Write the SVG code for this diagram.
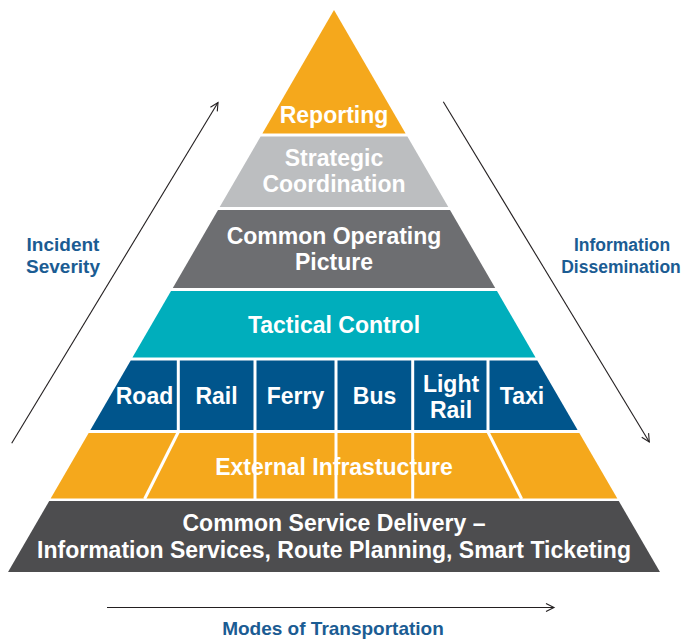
<svg xmlns="http://www.w3.org/2000/svg" width="686" height="641" viewBox="0 0 686 641">
<style>
.t{font-family:"Liberation Sans",Arial,sans-serif;font-weight:bold;font-size:23px;fill:#ffffff;text-anchor:middle}
.lbl{font-family:"Liberation Sans",Arial,sans-serif;font-weight:bold;font-size:19px;fill:#1B5C93;text-anchor:middle}
.sm{font-size:17.5px}
.div{stroke:#ffffff;stroke-width:3;fill:none}
.arr{stroke:#231F20;stroke-width:1.1;fill:none;marker-end:url(#ah)}
</style>
<defs>
<marker id="ah" markerUnits="userSpaceOnUse" markerWidth="12" markerHeight="12" refX="9" refY="5" orient="auto">
<path d="M1,1 L9,5 L1,9" fill="none" stroke="#231F20" stroke-width="1.1"/>
</marker>
</defs>
<rect width="686" height="641" fill="#ffffff"/>

<g id="reporting">
<polygon points="334,10 405.6,133.5 262.4,133.5" fill="#F5A81C"/>
<text class="t" x="334" y="123">Reporting</text>
</g>
<g id="strategic-coordination">
<polygon points="260.6,136.5 407.4,136.5 448.3,207 219.7,207" fill="#BCBEC0"/>
<text class="t" x="334" y="166">Strategic</text>
<text class="t" x="334" y="192">Coordination</text>
</g>
<g id="common-operating-picture">
<polygon points="218,210 450,210 495.2,288 172.8,288" fill="#6D6E71"/>
<text class="t" x="334" y="244">Common Operating</text>
<text class="t" x="334" y="270">Picture</text>
</g>
<g id="tactical-control">
<polygon points="171,291 497,291 535.55,357.5 132.45,357.5" fill="#00AEBC"/>
<text class="t" x="334" y="333">Tactical Control</text>
</g>
<g id="modes">
<polygon points="130.7,360.5 537.3,360.5 577.6,430 90.4,430" fill="#00558C"/>
<line class="div" x1="178.3" y1="360" x2="178.3" y2="431"/>
<line class="div" x1="255" y1="360" x2="255" y2="431"/>
<line class="div" x1="336" y1="360" x2="336" y2="431"/>
<line class="div" x1="412.7" y1="360" x2="412.7" y2="431"/>
<line class="div" x1="488" y1="360" x2="488" y2="431"/>
<text class="t" x="144.5" y="404">Road</text>
<text class="t" x="216.5" y="404">Rail</text>
<text class="t" x="295.5" y="404">Ferry</text>
<text class="t" x="374.5" y="404">Bus</text>
<text class="t" x="451" y="392">Light</text>
<text class="t" x="451" y="418">Rail</text>
<text class="t" x="522" y="404">Taxi</text>
</g>
<g id="external-infrastructure">
<polygon points="88.66,433 579.34,433 617.33,498.5 50.67,498.5" fill="#F5A81C"/>
<text class="t" x="334" y="475">External Infrastucture</text>
<line class="div" x1="178.3" y1="432" x2="144.6" y2="499"/>
<line class="div" x1="255" y1="432" x2="255" y2="499"/>
<line class="div" x1="336" y1="432" x2="336" y2="499"/>
<line class="div" x1="412.7" y1="432" x2="412.7" y2="499"/>
<line class="div" x1="488" y1="432" x2="521.7" y2="499"/>
</g>
<g id="common-service-delivery">
<polygon points="49.22,501 618.78,501 659.96,572 8.04,572" fill="#4D4D4F"/>
<text class="t" x="334" y="531">Common Service Delivery –</text>
<text class="t" x="334" y="558">Information Services, Route Planning, Smart Ticketing</text>
</g>

<g id="label-incident-severity">
<text class="lbl" x="63" y="251">Incident</text>
<text class="lbl" x="63" y="273">Severity</text>
</g>
<g id="label-information-dissemination">
<text class="lbl sm" x="622" y="251">Information</text>
<text class="lbl sm" x="621" y="273">Dissemination</text>
</g>
<g id="label-modes">
<text class="lbl" x="333" y="635">Modes of Transportation</text>
</g>

<g id="connectors">
<line class="arr" x1="11.7" y1="443.3" x2="218" y2="102.5"/>
<line class="arr" x1="443.3" y1="101.7" x2="649.3" y2="442"/>
<line class="arr" x1="107" y1="607.5" x2="554" y2="607.5"/>
</g>
</svg>
